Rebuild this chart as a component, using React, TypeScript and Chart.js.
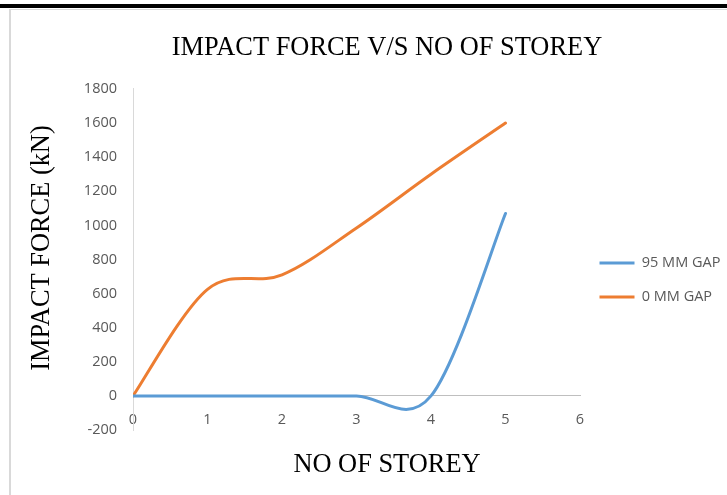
import { useEffect, useRef } from 'react';
import { Chart, registerables } from 'chart.js';

Chart.register(...registerables);

// ---- chart data ----
const STOREYS = [0, 1, 2, 3, 4, 5];
const GAP_95 = [0, 0, 0, 0, 0, 1070];
const GAP_0 = [0, 625, 710, 985, 1300, 1600];
const SERIES_NAMES = ['95 MM GAP', '0 MM GAP'];
const SERIES_COLORS = ['#5B9BD5', '#ED7D31'];

const CHART_TITLE = 'IMPACT FORCE V/S NO OF STOREY';
const X_TITLE = 'NO OF STOREY';
const Y_TITLE = 'IMPACT FORCE (kN)';

const X_MIN = 0;
const X_MAX = 6;
const X_STEP = 1;
const Y_MIN = -200;
const Y_MAX = 1800;
const Y_STEP = 200;

const SERIF = '"Liberation Serif", "Times New Roman", serif';
const SANS = '"Open Sans", "Noto Sans", sans-serif';
const LABEL_GREY = '#595959';

// Spreadsheet-style smoothing: each point's tangent runs parallel to the
// chord between its neighbours, with control arms of one sixth of that chord.
const smoothLines = {
  id: 'smoothLines',
  beforeDatasetsDraw(chart: any) {
    chart.data.datasets.forEach((_ds: any, i: number) => {
      const meta = chart.getDatasetMeta(i);
      const pts = meta.data;
      const n = pts.length;
      for (let k = 0; k < n; k++) {
        const p = pts[k];
        const prev = pts[Math.max(k - 1, 0)];
        const next = pts[Math.min(k + 1, n - 1)];
        const dx = (next.x - prev.x) / 6;
        const dy = (next.y - prev.y) / 6;
        p.cp1x = p.x - dx;
        p.cp1y = p.y - dy;
        p.cp2x = p.x + dx;
        p.cp2y = p.y + dy;
      }
      meta.dataset._pointsUpdated = true;
    });
  },
};

// Vertical axis caption, rotated and set beside the value labels.
const yAxisCaption = {
  id: 'yAxisCaption',
  afterDraw(chart: any) {
    const { ctx, chartArea } = chart;
    ctx.save();
    ctx.translate(42.5, chartArea.top + 159);
    ctx.rotate(-Math.PI / 2);
    ctx.font = `26.4px ${SERIF}`;
    ctx.fillStyle = '#000';
    ctx.textAlign = 'center';
    ctx.textBaseline = 'middle';
    ctx.fillText(Y_TITLE, 0, 0);
    ctx.restore();
  },
};

const tickFont = { family: SANS, size: 14.5 };

export default function App() {
  const canvasRef = useRef<HTMLCanvasElement>(null);

  useEffect(() => {
    const canvas = canvasRef.current;
    if (!canvas) return;

    const seriesValues = [GAP_95, GAP_0];
    const datasets = seriesValues.map((values, i) => ({
      label: SERIES_NAMES[i],
      data: STOREYS.map((x, j) => ({ x, y: values[j] })),
      borderColor: SERIES_COLORS[i],
      backgroundColor: SERIES_COLORS[i],
      borderWidth: 3,
      borderCapStyle: 'round' as const,
      borderJoinStyle: 'round' as const,
      pointRadius: 0,
      pointHoverRadius: 0,
      tension: 0.4,
    }));

    const chart = new Chart(canvas, {
      type: 'line',
      data: { datasets },
      options: {
        animation: false,
        responsive: false,
        events: [],
        layout: { padding: { left: 47, right: 0, top: 0, bottom: 0 } },
        plugins: {
          tooltip: { enabled: false },
          title: {
            display: true,
            text: CHART_TITLE,
            color: '#000',
            font: { family: SERIF, size: 26.4, weight: 'normal' },
            padding: { top: 32.5, bottom: 24.8 },
          },
          subtitle: {
            display: true,
            position: 'bottom',
            text: X_TITLE,
            color: '#000',
            font: { family: SERIF, size: 26.4, weight: 'normal' },
            padding: { top: 19.2, bottom: 14.1 },
          },
          legend: {
            display: true,
            position: 'right',
            align: 'start',
            maxWidth: 147,
            title: {
              display: true,
              text: ' ',
              font: { size: 1 },
              padding: { top: 235, bottom: 0 },
            },
            labels: {
              boxWidth: 35,
              boxHeight: 3,
              padding: 19.5,
              color: LABEL_GREY,
              font: { family: SANS, size: 14.5 },
              generateLabels: (c: any) =>
                Chart.defaults.plugins.legend.labels
                  .generateLabels(c)
                  .map((item: any) => ({ ...item, fillStyle: item.strokeStyle, lineWidth: 0 })),
            },
          },
        },
        scales: {
          x: {
            type: 'linear',
            position: { y: 0 },
            min: X_MIN,
            max: X_MAX,
            grid: { display: false, drawTicks: false },
            border: { display: true, color: '#bfbfbf', width: 1 },
            ticks: {
              stepSize: X_STEP,
              padding: 15,
              color: LABEL_GREY,
              font: tickFont,
              callback: (v: any) => String(v),
            },
          },
          y: {
            type: 'linear',
            position: 'left',
            min: Y_MIN,
            max: Y_MAX,
            grid: { display: false, drawTicks: false },
            border: { display: true, color: '#d9d9d9', width: 1 },
            ticks: {
              stepSize: Y_STEP,
              padding: 16,
              color: LABEL_GREY,
              font: tickFont,
              callback: (v: any) => String(v),
            },
            afterFit: (scale: any) => {
              scale.width = 86;
            },
          },
        },
      } as any,
      plugins: [smoothLines, yAxisCaption],
    });

    return () => chart.destroy();
  }, []);

  return (
    <div
      style={{
        position: 'absolute',
        left: 0,
        top: 0,
        width: 727,
        height: 495,
        background: '#fff',
        overflow: 'hidden',
      }}
    >
      <div style={{ position: 'absolute', left: 0, top: 4, width: 727, height: 4, background: '#000' }} />
      <div
        style={{
          position: 'absolute',
          left: 9,
          top: 9,
          width: 800,
          height: 600,
          borderLeft: '2px solid #d9d9d9',
          borderTop: '1px solid #d9d9d9',
        }}
      />
      <canvas
        ref={canvasRef}
        width={727}
        height={495}
        style={{ position: 'absolute', left: 0, top: 0, width: 727, height: 495 }}
      />
    </div>
  );
}
